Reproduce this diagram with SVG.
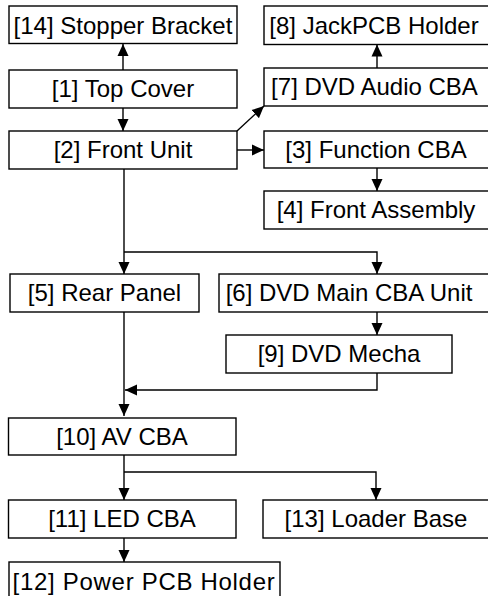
<svg xmlns="http://www.w3.org/2000/svg" width="488" height="596" viewBox="0 0 488 596">
<style>
.box{fill:#fff;stroke:#000;stroke-width:1.4}
.lbl{font-family:"Liberation Sans",Arial,sans-serif;font-size:24px;fill:#000;text-anchor:middle}
.con{fill:none;stroke:#000;stroke-width:1.4}
</style>
<defs>
<marker id="ah" markerUnits="userSpaceOnUse" markerWidth="13" markerHeight="12" refX="12" refY="6" orient="auto">
<path d="M0,0.5 L12,6 L0,11.5 Z" fill="#000"/>
</marker>
</defs>
<rect width="488" height="596" fill="#fff"/>
<g id="connectors">
<line class="con" x1="123" y1="70" x2="123" y2="44" marker-end="url(#ah)"/>
<line class="con" x1="123" y1="108" x2="123" y2="131" marker-end="url(#ah)"/>
<line class="con" x1="237" y1="131" x2="264" y2="106" marker-end="url(#ah)"/>
<line class="con" x1="237" y1="150" x2="264" y2="150" marker-end="url(#ah)"/>
<line class="con" x1="377" y1="68" x2="377" y2="44.5" marker-end="url(#ah)"/>
<line class="con" x1="377" y1="168" x2="377" y2="191" marker-end="url(#ah)"/>
<line class="con" x1="124" y1="169" x2="124" y2="274" marker-end="url(#ah)"/>
<path class="con" d="M124,252 H377 V274" marker-end="url(#ah)"/>
<line class="con" x1="377" y1="312" x2="377" y2="335" marker-end="url(#ah)"/>
<path class="con" d="M377,373 V390 H125" marker-end="url(#ah)"/>
<line class="con" x1="124" y1="312" x2="124" y2="416" marker-end="url(#ah)"/>
<line class="con" x1="124" y1="455" x2="124" y2="500" marker-end="url(#ah)"/>
<path class="con" d="M124,472 H376 V500" marker-end="url(#ah)"/>
<line class="con" x1="124" y1="538" x2="124" y2="562" marker-end="url(#ah)"/>
</g>
<g id="n14"><rect class="box" x="9" y="6" width="228" height="37.5"/><text class="lbl" x="123" y="33.5">[14] Stopper Bracket</text></g>
<g id="n1"><rect class="box" x="9" y="70" width="228" height="38"/><text class="lbl" x="123" y="97">[1] Top Cover</text></g>
<g id="n2"><rect class="box" x="9" y="131" width="228" height="38"/><text class="lbl" x="123" y="158">[2] Front Unit</text></g>
<g id="n8"><rect class="box" x="264" y="6" width="226" height="38.5"/><text class="lbl" x="374" y="33.5">[8] JackPCB Holder</text></g>
<g id="n7"><rect class="box" x="264" y="68" width="226" height="38"/><text class="lbl" x="374.5" y="95">[7] DVD Audio CBA</text></g>
<g id="n3"><rect class="box" x="264" y="131" width="226" height="37"/><text class="lbl" x="376" y="158">[3] Function CBA</text></g>
<g id="n4"><rect class="box" x="264" y="191" width="226" height="38"/><text class="lbl" x="376" y="218">[4] Front Assembly</text></g>
<g id="n5"><rect class="box" x="10" y="274" width="189" height="38"/><text class="lbl" x="104.5" y="301">[5] Rear Panel</text></g>
<g id="n6"><rect class="box" x="219" y="274" width="271" height="38"/><text class="lbl" x="349" y="301">[6] DVD Main CBA Unit</text></g>
<g id="n9"><rect class="box" x="226" y="335" width="226" height="38"/><text class="lbl" x="339" y="362">[9] DVD Mecha</text></g>
<g id="n10"><rect class="box" x="8.5" y="418" width="227.5" height="37"/><text class="lbl" x="122" y="445">[10] AV CBA</text></g>
<g id="n11"><rect class="box" x="8.5" y="500" width="227.5" height="38"/><text class="lbl" x="122" y="527">[11] LED CBA</text></g>
<g id="n13"><rect class="box" x="263" y="500" width="227" height="38"/><text class="lbl" x="376" y="527">[13] Loader Base</text></g>
<g id="n12"><rect class="box" x="9" y="562" width="271" height="40"/><text class="lbl" x="144" y="590" letter-spacing="0.7">[12] Power PCB Holder</text></g>
</svg>
